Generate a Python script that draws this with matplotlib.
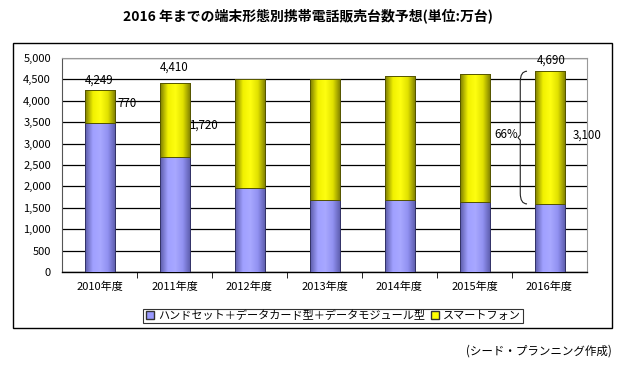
import matplotlib
matplotlib.use("Agg")
import matplotlib.pyplot as plt
import numpy as np
from matplotlib.patches import Rectangle, PathPatch
from matplotlib.path import Path
from matplotlib.colors import LinearSegmentedColormap

plt.rcParams['font.family'] = ['Noto Sans CJK JP', 'DejaVu Sans']

# データ（単位:万台）
years = ['2010年度', '2011年度', '2012年度', '2013年度', '2014年度', '2015年度', '2016年度']
handset = [3479, 2690, 1950, 1690, 1690, 1640, 1590]
smartphone = [770, 1720, 2550, 2830, 2880, 2980, 3100]
totals = [4249, 4410, 4500, 4520, 4570, 4620, 4690]
yticks = [0, 500, 1000, 1500, 2000, 2500, 3000, 3500, 4000, 4500, 5000]

fig = plt.figure(figsize=(6.2, 3.68), dpi=100)
ax = fig.add_axes([0.1, 0.261, 0.8468, 0.5815])

x = np.arange(len(years))
bw = 0.4
b1 = ax.bar(x, handset, bw, color='#9999ff', edgecolor='#333366', linewidth=0.7, zorder=3)
b2 = ax.bar(x, smartphone, bw, bottom=handset, color='#ffff00', edgecolor='#555500', linewidth=0.7, zorder=3)

# 棒のグラデーション
cm_p = LinearSegmentedColormap.from_list('p', ['#5a5aa8', '#a0a0ff', '#a8a8ff', '#9090f0', '#5a5aa8'])
cm_y = LinearSegmentedColormap.from_list('y', ['#7a7a00', '#f0f000', '#ffff10', '#e0e000', '#7a7a00'])
grad = np.linspace(0, 1, 64).reshape(1, -1)
for bars, cm in ((b1, cm_p), (b2, cm_y)):
    for r in bars:
        x0, y0 = r.get_x(), r.get_y()
        im = ax.imshow(grad, cmap=cm, aspect='auto', zorder=3.5,
                       extent=[x0, x0 + r.get_width(), y0, y0 + r.get_height()])
        im.set_clip_path(r)
        r2 = Rectangle((x0, y0), r.get_width(), r.get_height(), fill=False,
                       edgecolor=r.get_edgecolor(), linewidth=0.7, zorder=4)
        ax.add_patch(r2)

ax.set_xlim(-0.5, len(years) - 0.5)
ax.set_ylim(0, 5000)
ax.set_yticks(yticks)
ax.set_yticklabels([f'{v:,}' for v in yticks], fontsize=8)
ax.yaxis.grid(True, color='black', linewidth=0.9, zorder=1)
ax.set_axisbelow(True)
ax.tick_params(axis='y', length=0, pad=8)
ax.set_xticks(x)
ax.set_xticklabels(years, fontsize=8)
ax.tick_params(axis='x', length=0, pad=7)
ax.set_xticks(np.arange(0.5, len(years) - 1, 1), minor=True)
ax.tick_params(axis='x', which='minor', length=4, direction='out', color='black')
for s in ('top', 'right'):
    ax.spines[s].set_color('#999999')
    ax.spines[s].set_linewidth(0.8)
ax.spines['left'].set_color('#555555')
ax.spines['bottom'].set_color('black')
ax.spines['bottom'].set_linewidth(1.0)

# 数値ラベル
lab = dict(fontsize=8.3, zorder=6)
ax.text(0, totals[0] + 90, f'{totals[0]:,}', ha='center', va='bottom', **lab)
ax.text(0.37, handset[0] + smartphone[0] / 2 + 70, f'{smartphone[0]:,}', ha='center', va='center', **lab)
ax.text(1, totals[1] + 220, f'{totals[1]:,}', ha='center', va='bottom', **lab)
ax.text(1.38, handset[1] + smartphone[1] / 2 - 130, f'{smartphone[1]:,}', ha='center', va='center', **lab)
ax.text(6.02, totals[6] + 110, f'{totals[6]:,}', ha='center', va='bottom', **lab)
ax.text(6.5, handset[6] + smartphone[6] / 2 + 60, f'{smartphone[6]:,}', ha='center', va='center', **lab)
ax.text(5.42, handset[6] + smartphone[6] / 2 + 60, '66%', ha='center', va='center', **lab)

# 中括弧
bx = 5.61
yb, yt = handset[6], totals[6]
ym = (yb + yt) / 2
dx = 0.09
verts = [(bx + dx, yt), (bx, yt), (bx, yt - 250),
         (bx, ym + 60), (bx - 0.03, ym), (bx, ym - 60),
         (bx, yb + 250), (bx, yb), (bx + dx, yb)]
codes = [Path.MOVETO, Path.CURVE3, Path.CURVE3,
         Path.LINETO, Path.LINETO, Path.LINETO,
         Path.LINETO, Path.CURVE3, Path.CURVE3]
ax.add_patch(PathPatch(Path(verts, codes), fill=False, edgecolor='#222222', linewidth=0.8, zorder=5))

# 凡例
h1 = plt.Line2D([], [], marker='s', linestyle='none', markersize=6, markerfacecolor='#9999ff', markeredgecolor='#333333')
h2 = plt.Line2D([], [], marker='s', linestyle='none', markersize=6, markerfacecolor='#ffff00', markeredgecolor='#333333')
leg = fig.legend([h1, h2], ['ハンドセット＋データカード型＋データモジュール型', 'スマートフォン'],
                 loc='center', bbox_to_anchor=(333 / 620, 1 - 316 / 368), ncol=2,
                 frameon=True, fancybox=False, fontsize=8, handlelength=0.8, handletextpad=0.3,
                 columnspacing=0.5, borderpad=0.2, borderaxespad=0)
leg.get_frame().set_edgecolor('black')
leg.get_frame().set_linewidth(0.8)

# 外枠
fig.patches.append(Rectangle((13 / 620, 1 - 328 / 368), 599 / 620, 285 / 368, transform=fig.transFigure,
                             fill=False, edgecolor='black', linewidth=1.0))

fig.text(308 / 620, 1 - 16 / 368, '2016 年までの端末形態別携帯電話販売台数予想(単位:万台)',
         ha='center', va='center', fontsize=10, fontweight='bold')
fig.text(612 / 620, 1 - 351 / 368, '(シード・プランニング作成)', ha='right', va='center', fontsize=8.3)

fig.savefig('out.png', dpi=100)
